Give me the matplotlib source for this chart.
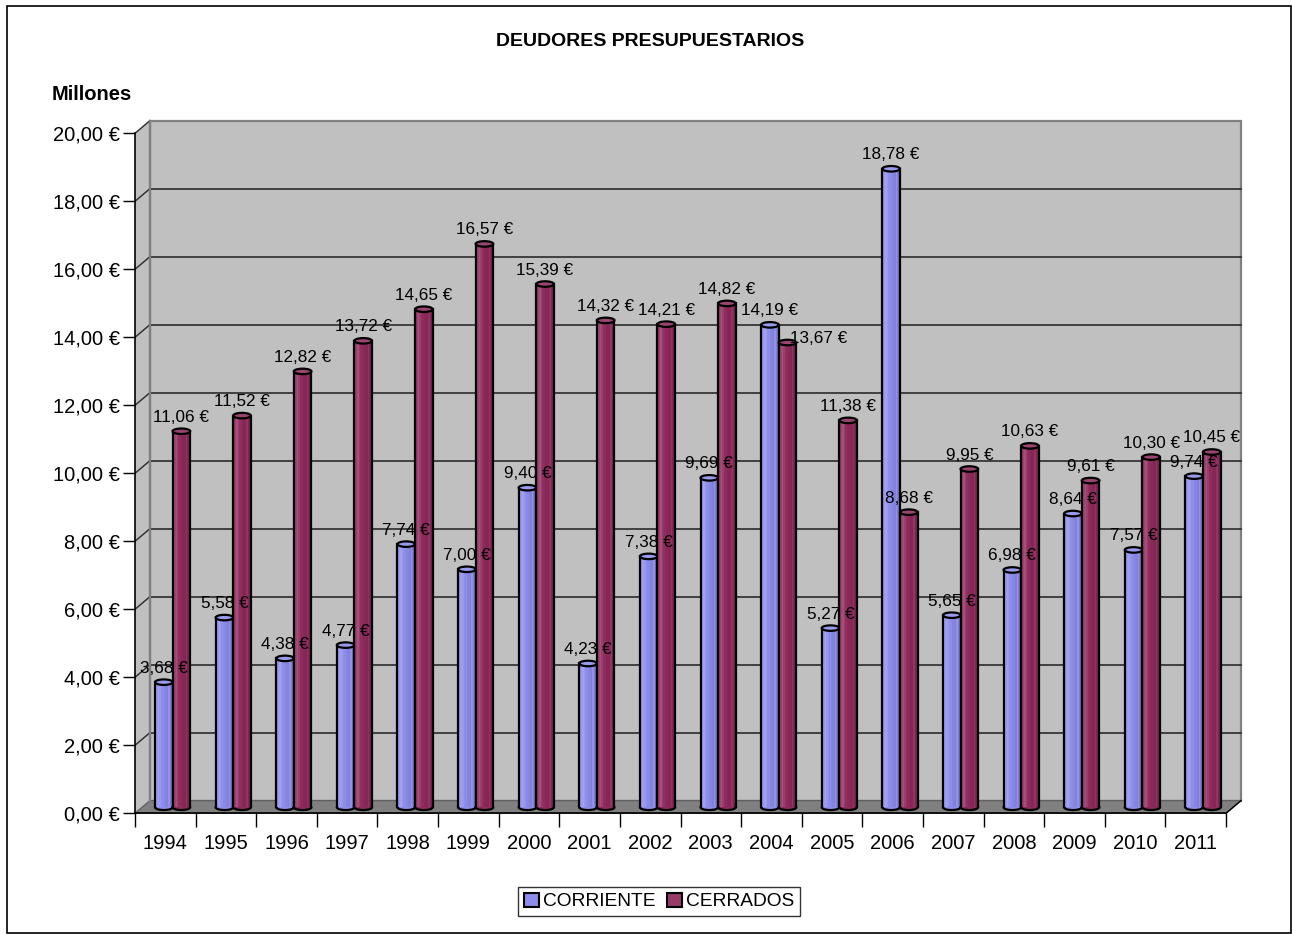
import matplotlib
matplotlib.use("Agg")
import matplotlib.pyplot as plt
from matplotlib.patches import Rectangle, Ellipse, Polygon
import matplotlib.colors as mcolors
import numpy as np

plt.rcParams['font.family'] = ['Liberation Sans', 'DejaVu Sans']

years = ['1994', '1995', '1996', '1997', '1998', '1999', '2000', '2001', '2002',
         '2003', '2004', '2005', '2006', '2007', '2008', '2009', '2010', '2011']
corriente = [3.68, 5.58, 4.38, 4.77, 7.74, 7.00, 9.40, 4.23, 7.38,
             9.69, 14.19, 5.27, 18.78, 5.65, 6.98, 8.64, 7.57, 9.74]
cerrados = [11.06, 11.52, 12.82, 13.72, 14.65, 16.57, 15.39, 14.32, 14.21,
            14.82, 13.67, 11.38, 8.68, 9.95, 10.63, 9.61, 10.30, 10.45]
series_names = ['CORRIENTE', 'CERRADOS']
series_colors = ['#8C8CEB', '#8E2A5C']
yticks = np.arange(0, 21, 2)

W, H, DPI = 1292, 935, 100
fig = plt.figure(figsize=(W / DPI, H / DPI), dpi=DPI)

# axes placed in pixel terms (front plane)
ax_left, ax_right = 135, 1226
ax_top, ax_bot = 133.3, 813.3
ax = fig.add_axes([ax_left / W, (H - ax_bot) / H, (ax_right - ax_left) / W, (ax_bot - ax_top) / H])
n = len(years)
ax.set_xlim(-0.5, n - 0.5)
ax.set_ylim(0, 20)
ax.patch.set_visible(False)

px_x = (ax_right - ax_left) / n          # pixels per category
px_y = (ax_bot - ax_top) / 20.0          # pixels per unit
# depth offsets (in data units)
bdx, bdy = 15 / px_x, 12.7 / px_y        # back wall
mdx, mdy = 7.3 / px_x, 6.0 / px_y        # bar plane

x0, x1 = -0.5, n - 0.5
wall = '#C0C0C0'
edge = '#808080'

# side wall
ax.add_patch(Polygon([(x0, 0), (x0 + bdx, bdy), (x0 + bdx, 20 + bdy), (x0, 20)],
                     closed=True, facecolor=wall, edgecolor='none', clip_on=False, zorder=0))
# back wall
ax.add_patch(Rectangle((x0 + bdx, bdy), x1 - x0, 20, facecolor=wall, edgecolor=edge,
                       lw=1.6, clip_on=False, zorder=0))
# floor
ax.add_patch(Polygon([(x0, 0), (x1, 0), (x1 + bdx, bdy), (x0 + bdx, bdy)], closed=True,
                     facecolor='#808080', edgecolor='#606060', lw=1, clip_on=False, zorder=1))
# gridlines on back wall + diagonals on side wall
for t in yticks[1:-1]:
    ax.plot([x0 + bdx, x1 + bdx], [t + bdy, t + bdy], color='#2a2a2a', lw=1.2,
            clip_on=False, zorder=1)
for t in yticks[1:]:
    ax.plot([x0, x0 + bdx], [t, t + bdy], color='#2a2a2a', lw=1.0, clip_on=False, zorder=1)
ax.plot([x0 + bdx, x0 + bdx], [bdy, 20 + bdy], color=edge, lw=1.6, clip_on=False, zorder=1)


def shade(c, f):
    r, g, b = mcolors.to_rgb(c)
    if f >= 0:
        return (r + (1 - r) * f, g + (1 - g) * f, b + (1 - b) * f)
    f = -f
    return (r * (1 - f), g * (1 - f), b * (1 - f))


bw = 0.29
eh = 5.5 / px_y  # ellipse height in data units
profile = [0.05, 0.12, 0.18, 0.10, 0.02, 0.0, -0.03, -0.06, -0.08, 0.04, -0.10, -0.15]
# label placement tweaks (pixels) keyed by (series, index)
label_shift = {(1, 10): (31, -10)}

for s, vals in enumerate([corriente, cerrados]):
    col = series_colors[s]
    for i, v in enumerate(vals):
        left = i - bw + s * bw + mdx
        base = mdy
        z = 3 + s
        # bottom ellipse
        ax.add_patch(Ellipse((left + bw / 2, base), bw, eh, facecolor=col, edgecolor='black',
                             lw=1.6, clip_on=False, zorder=z))
        # shaded body strips
        ns = len(profile)
        for k, f in enumerate(profile):
            ax.add_patch(Rectangle((left + k * bw / ns, base), bw / ns * 1.02, v,
                                   facecolor=shade(col, f), edgecolor='none',
                                   clip_on=False, zorder=z))
        ax.plot([left, left], [base, base + v], color='black', lw=1.6, clip_on=False, zorder=z)
        ax.plot([left + bw, left + bw], [base, base + v], color='black', lw=1.6,
                clip_on=False, zorder=z)
        # top ellipse
        ax.add_patch(Ellipse((left + bw / 2, base + v), bw, eh, facecolor=shade(col, 0.12),
                             edgecolor='black', lw=1.6, clip_on=False, zorder=z))
        lab = f"{v:.2f}".replace('.', ',') + " €"
        sx, sy = label_shift.get((s, i), (0, 0))
        ax.annotate(lab, (left + bw / 2, base + v), xytext=(sx, 14 + sy),
                    textcoords='offset pixels', ha='center', va='center', fontsize=12.3,
                    color='black', zorder=10, annotation_clip=False)

# axes styling
for sp in ['top', 'right']:
    ax.spines[sp].set_visible(False)
ax.spines['left'].set_color('black')
ax.spines['bottom'].set_color('black')
ax.spines['left'].set_linewidth(1.2)
ax.spines['bottom'].set_linewidth(1.2)
ax.spines['left'].set_zorder(2)
ax.spines['bottom'].set_zorder(2)
ax.plot([x1, x1 + bdx], [0, bdy], color='black', lw=1.0, clip_on=False, zorder=2)

ax.set_yticks(yticks)
ax.set_yticklabels([f"{t:.2f}".replace('.', ',') + " €" for t in yticks], fontsize=14.5)
ax.tick_params(axis='y', length=9, width=1.0, pad=2, color='black')

ax.set_xticks(np.arange(n))
ax.set_xticklabels(years, fontsize=14.5)
ax.set_xticks(np.arange(n + 1) - 0.5, minor=True)
ax.tick_params(axis='x', which='major', length=0, pad=15)
ax.tick_params(axis='x', which='minor', length=10, width=1.0, color='black')

# titles
fig.text(650 / W, 1 - 41 / H, 'DEUDORES PRESUPUESTARIOS', ha='center', va='center',
         fontsize=14, fontweight='bold')
fig.text(52 / W, 1 - 94 / H, 'Millones', ha='left', va='center', fontsize=14.5,
         fontweight='bold')

# legend
handles = [Rectangle((0, 0), 1, 1, facecolor=c, edgecolor='black', lw=1.5) for c in
           [series_colors[0], shade(series_colors[1], 0.08)]]
leg = fig.legend(handles, series_names, loc='center', bbox_to_anchor=(659 / W, 1 - 901.5 / H),
                 ncol=2, fontsize=13.8, frameon=True, fancybox=False, shadow=False,
                 handlelength=0.8, handleheight=0.8, handletextpad=0.2, columnspacing=0.6,
                 borderpad=0.3, borderaxespad=0)
leg.get_frame().set_edgecolor('black')
leg.get_frame().set_linewidth(1.0)

# outer border
fig.patches.append(Rectangle((7 / W, 2 / H), (1291 - 7) / W, (929 - 2) / H,
                             transform=fig.transFigure, fill=False, edgecolor='black', lw=1.2))

fig.savefig('out.png', dpi=DPI)
